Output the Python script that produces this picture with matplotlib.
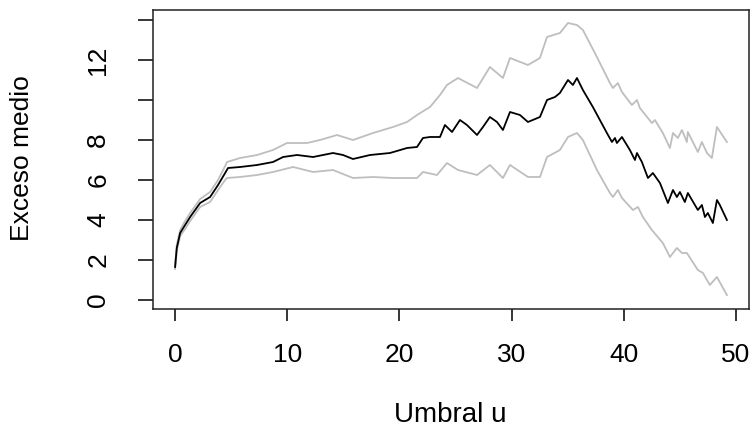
import matplotlib
matplotlib.use("Agg")
import matplotlib.pyplot as plt

# mean excess curve (umbral u, exceso medio)
u_mean = [0.00, 0.15, 0.45, 0.89, 1.34, 2.23, 3.12, 3.83, 4.46, 4.72, 5.79, 7.31,
          8.73, 9.63, 10.87, 12.30, 14.08, 14.97, 15.86, 17.38, 19.16, 20.68, 21.57,
          22.10, 22.73, 23.62, 24.06, 24.69, 25.40, 26.02, 26.92, 27.45, 28.07, 28.70,
          29.23, 29.86, 30.75, 31.46, 32.53, 33.16, 33.87, 34.31, 35.03, 35.47, 35.83,
          36.36, 37.25, 38.50, 38.95, 39.22, 39.39, 39.84, 40.55, 41.00, 41.18, 41.62,
          42.16, 42.60, 43.23, 43.94, 44.39, 44.74, 45.01, 45.45, 45.72, 46.61, 46.97,
          47.24, 47.50, 47.95, 48.31, 48.57, 49.20]
e_mean = [1.65, 2.60, 3.35, 3.75, 4.15, 4.85, 5.15, 5.75, 6.35, 6.60, 6.65, 6.75,
          6.90, 7.15, 7.25, 7.15, 7.35, 7.25, 7.05, 7.25, 7.35, 7.60, 7.65,
          8.10, 8.15, 8.15, 8.75, 8.40, 9.00, 8.75, 8.25, 8.65, 9.15, 8.90,
          8.50, 9.40, 9.25, 8.90, 9.15, 10.00, 10.15, 10.35, 11.00, 10.75, 11.10,
          10.50, 9.65, 8.35, 7.90, 8.10, 7.85, 8.15, 7.50, 7.00, 7.35, 6.90,
          6.10, 6.35, 5.85, 4.85, 5.50, 5.15, 5.40, 4.90, 5.35, 4.50, 4.75,
          4.15, 4.35, 3.85, 5.00, 4.75, 4.00]

# upper confidence band
u_up = [0.00, 0.15, 0.45, 0.89, 1.34, 2.23, 3.12, 3.83, 4.46, 4.63, 5.79, 7.31,
        8.73, 9.98, 11.76, 12.92, 14.44, 15.86, 17.65, 19.43, 20.68, 21.57, 22.73,
        23.62, 24.24, 25.22, 26.92, 28.07, 29.23, 29.86, 31.46, 32.53, 33.16, 34.31,
        35.03, 35.83, 36.36, 37.61, 38.77, 39.04, 39.48, 39.84, 40.73, 41.18, 41.44,
        42.51, 42.78, 43.49, 44.12, 44.39, 44.83, 45.19, 45.63, 45.72, 46.61, 46.97,
        47.42, 47.86, 48.31, 49.20]
e_up = [1.75, 2.75, 3.50, 3.95, 4.35, 5.05, 5.40, 6.00, 6.70, 6.90, 7.10, 7.25,
        7.50, 7.85, 7.85, 8.00, 8.25, 8.00, 8.35, 8.65, 8.90, 9.25, 9.65,
        10.25, 10.75, 11.10, 10.60, 11.65, 11.10, 12.10, 11.75, 12.10, 13.15, 13.35,
        13.85, 13.75, 13.50, 12.15, 10.85, 10.60, 10.85, 10.40, 9.75, 10.00, 9.60,
        8.85, 9.00, 8.35, 7.60, 8.35, 8.10, 8.50, 7.90, 8.40, 7.40, 7.90,
        7.35, 7.10, 8.65, 7.90]

# lower confidence band
u_low = [0.00, 0.15, 0.45, 0.89, 1.34, 2.23, 3.12, 3.83, 4.46, 4.63, 5.79, 7.31,
         8.73, 10.52, 12.30, 14.08, 15.86, 17.65, 19.43, 21.57, 22.10, 23.35, 24.24,
         25.22, 26.92, 28.07, 29.23, 29.86, 31.46, 32.53, 33.16, 34.31, 35.03, 35.83,
         36.36, 37.61, 38.77, 39.04, 39.48, 39.84, 40.82, 41.27, 41.71, 42.51, 43.49,
         44.12, 44.74, 45.19, 45.63, 46.61, 47.06, 47.68, 48.31, 49.20]
e_low = [1.55, 2.45, 3.20, 3.55, 3.95, 4.65, 4.90, 5.50, 6.00, 6.10, 6.15, 6.25,
         6.40, 6.65, 6.40, 6.50, 6.10, 6.15, 6.10, 6.10, 6.40, 6.25, 6.85,
         6.50, 6.25, 6.75, 6.10, 6.75, 6.15, 6.15, 7.15, 7.50, 8.15, 8.35,
         8.00, 6.50, 5.35, 5.15, 5.50, 5.10, 4.50, 4.65, 4.15, 3.50, 2.85,
         2.15, 2.60, 2.35, 2.35, 1.50, 1.35, 0.75, 1.15, 0.25]

x_ticks = [0, 10, 20, 30, 40, 50]
y_ticks = [0, 2, 4, 6, 8, 10, 12, 14]
y_tick_labels = ["0", "2", "4", "6", "8", "", "12", ""]

plt.rcParams["font.family"] = ["Liberation Sans", "DejaVu Sans"]

fig = plt.figure(figsize=(7.56, 4.32), dpi=100)
ax = fig.add_axes([153 / 756, 1 - 309 / 432, 596 / 756, 299 / 432])

grey = "#bebebe"
ax.plot(u_up, e_up, color=grey, lw=1.3)
ax.plot(u_low, e_low, color=grey, lw=1.3)
ax.plot(u_mean, e_mean, color="black", lw=1.3)

ax.set_xlim(-1.97, 51.17)
ax.set_ylim(-0.45, 14.5)

ax.set_xticks(x_ticks)
ax.set_xticklabels([str(t) for t in x_ticks], fontsize=19)
ax.set_yticks(y_ticks)
ax.set_yticklabels(y_tick_labels, fontsize=19, rotation=90, va="center")

ax.tick_params(axis="x", direction="out", length=8.6, width=1.1, pad=16)
ax.tick_params(axis="y", direction="out", length=10.8, width=1.1, pad=20)
for s in ax.spines.values():
    s.set_linewidth(1.1)
    s.set_color("#222222")

fig.text(450 / 756, 1 - 415 / 432, "Umbral u", fontsize=20, ha="center", va="center")
fig.text(22 / 756, 1 - 158 / 432, "Exceso medio", fontsize=19, rotation=90,
         ha="center", va="center")

fig.savefig("out.png", dpi=100)
